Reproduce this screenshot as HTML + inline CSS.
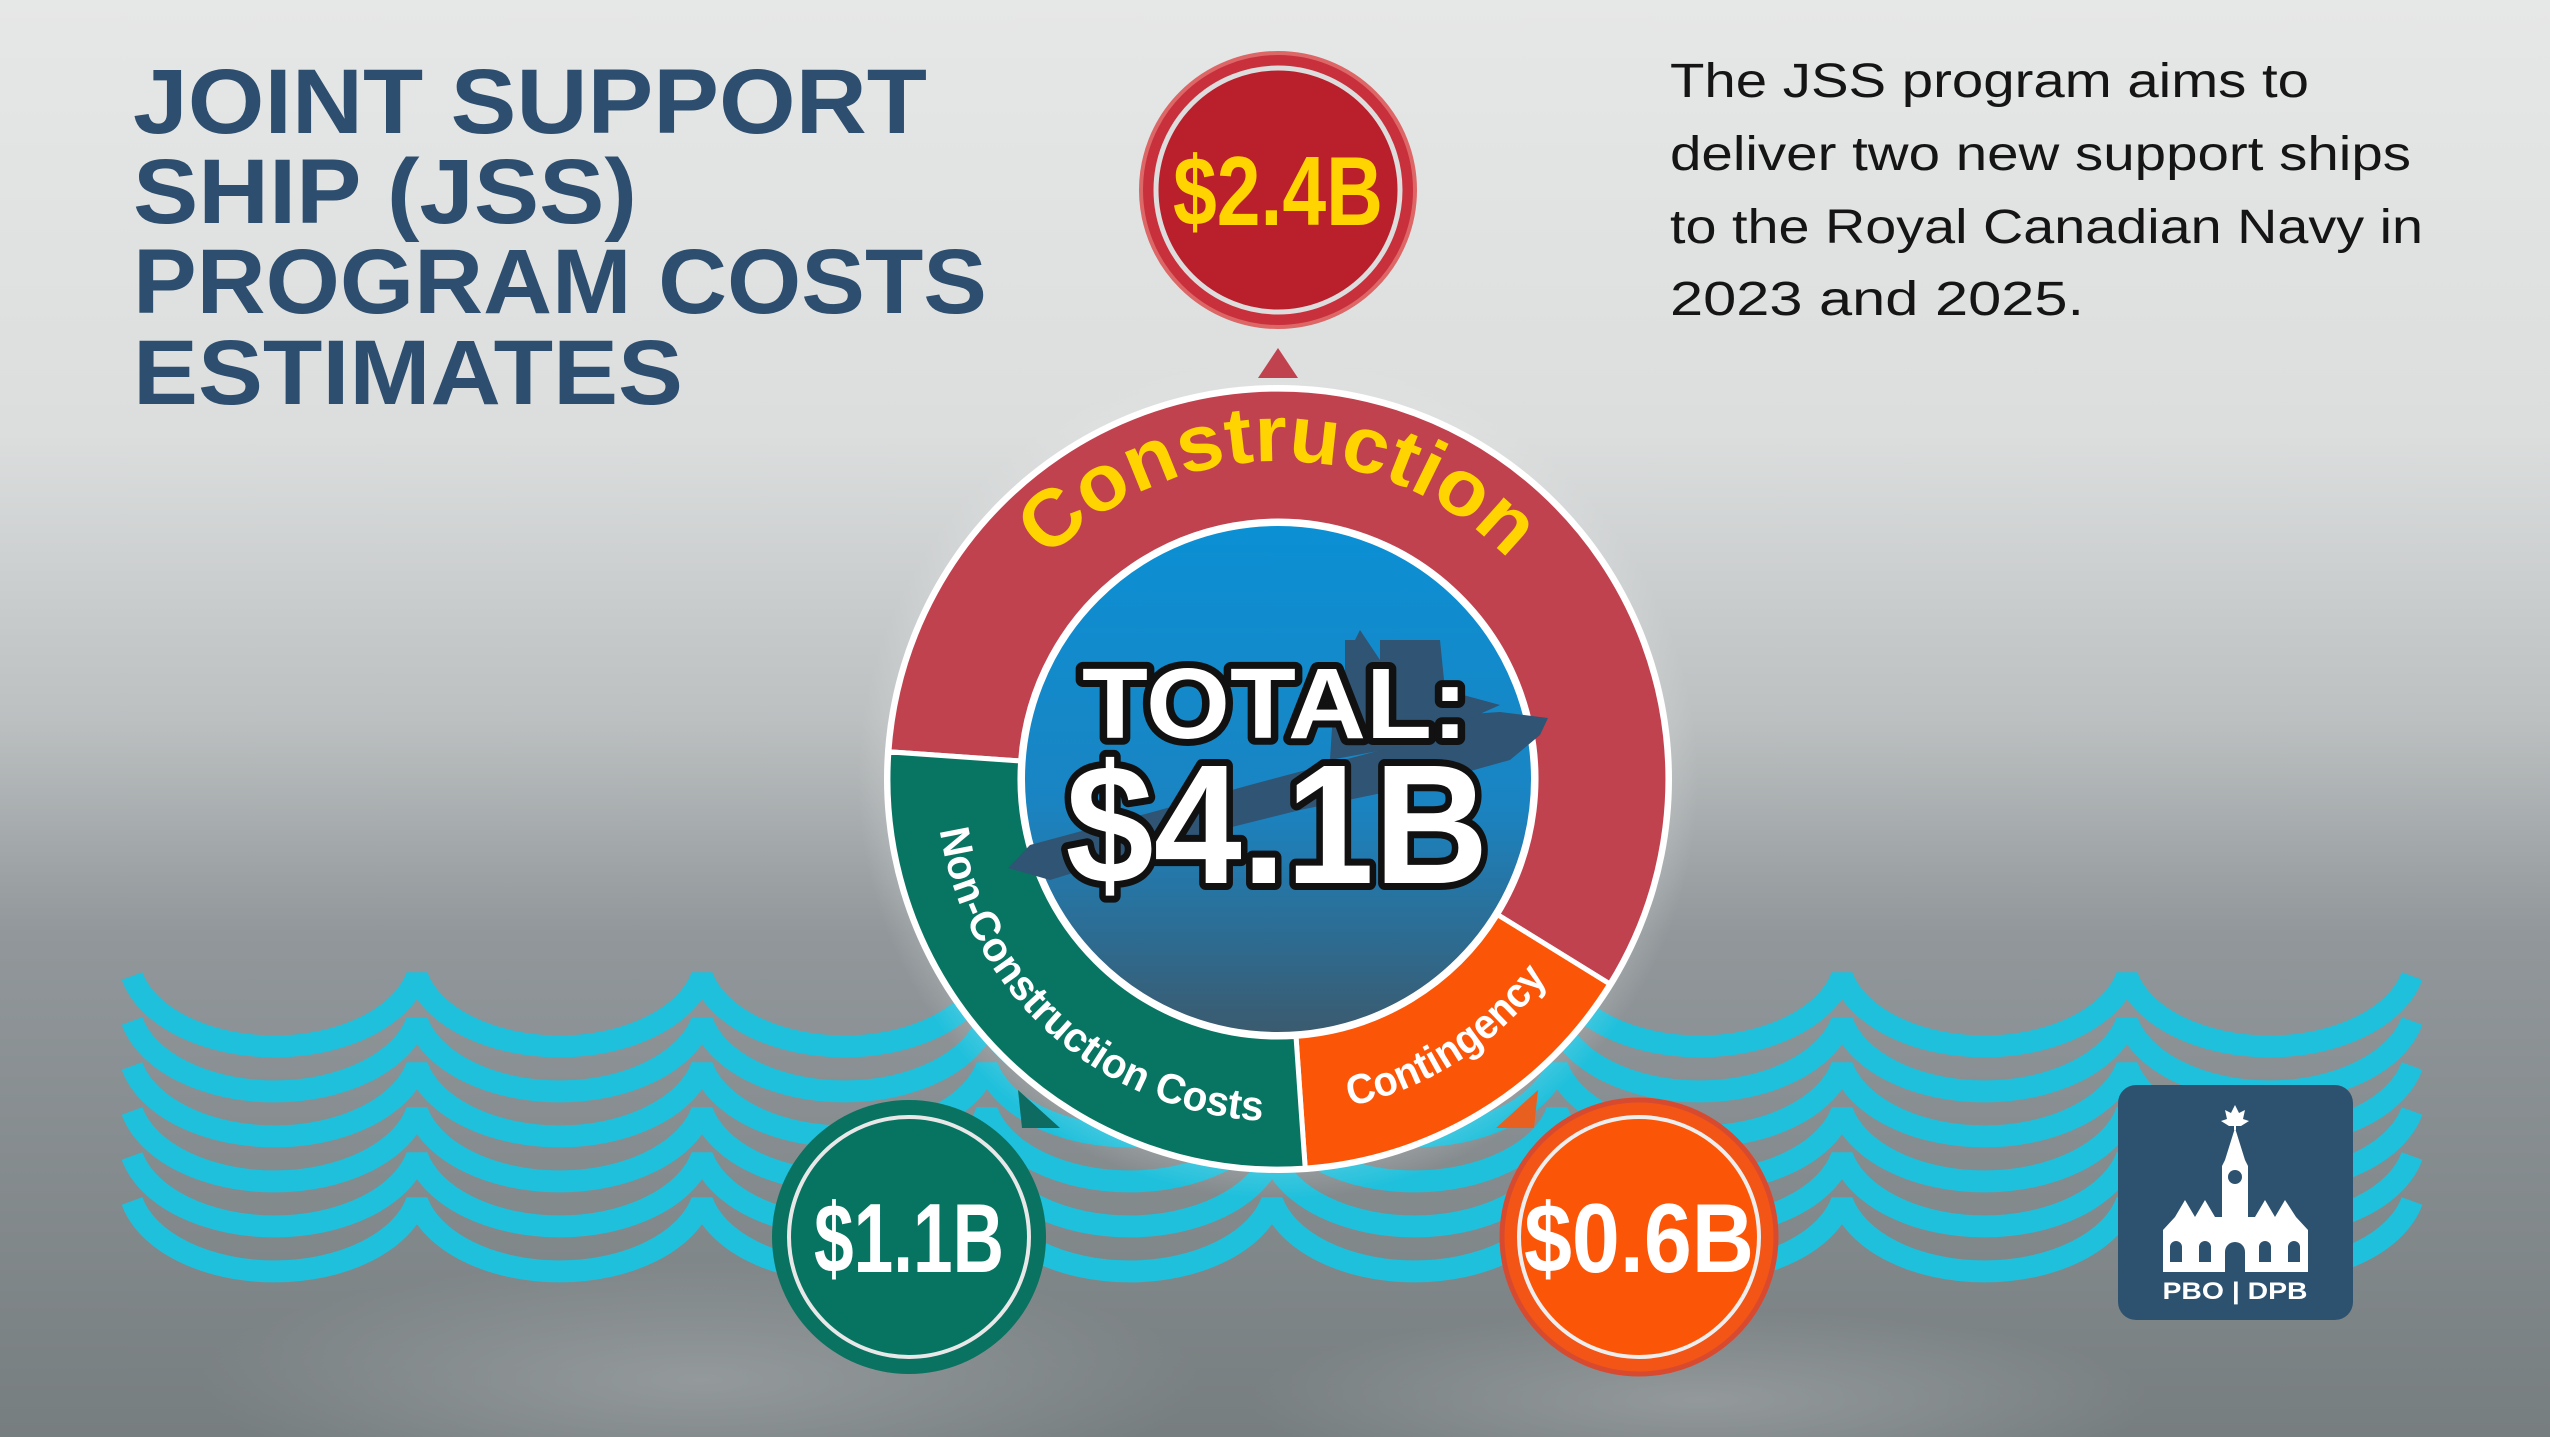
<!DOCTYPE html>
<html><head><meta charset="utf-8"><style>
html,body{margin:0;padding:0;width:2550px;height:1437px;overflow:hidden;background:#aaa}
svg{display:block}
</style></head><body>
<svg width="2550" height="1437" viewBox="0 0 2550 1437" xmlns="http://www.w3.org/2000/svg">
<defs>
<linearGradient id="bg" x1="0" y1="0" x2="0" y2="1">
<stop offset="0" stop-color="#e6e7e7"/>
<stop offset="0.3" stop-color="#dcdede"/>
<stop offset="0.5" stop-color="#bcc0c1"/>
<stop offset="0.65" stop-color="#91979a"/>
<stop offset="1" stop-color="#777e80"/>
</linearGradient>
<radialGradient id="patch" cx="0.5" cy="0.5" r="0.5">
<stop offset="0" stop-color="#9aa0a2" stop-opacity="0.8"/>
<stop offset="1" stop-color="#9aa0a2" stop-opacity="0"/>
</radialGradient>
<radialGradient id="glow" cx="0.5" cy="0.5" r="0.5">
<stop offset="0.7" stop-color="#e8eaea" stop-opacity="0.7"/>
<stop offset="1" stop-color="#e8eaea" stop-opacity="0"/>
</radialGradient>
<linearGradient id="sea" x1="0" y1="0" x2="0" y2="1">
<stop offset="0" stop-color="#0b90d4"/>
<stop offset="0.55" stop-color="#1a84c2"/>
<stop offset="1" stop-color="#3b5a6e"/>
</linearGradient>
<g id="wave">
<path d="M132,976 A146 90 0 0 0 417,976 A146 90 0 0 0 702,976 A146 90 0 0 0 987,976 A146 90 0 0 0 1272,976 A146 90 0 0 0 1557,976 A146 90 0 0 0 1842,976 A146 90 0 0 0 2127,976 A146 90 0 0 0 2412,976" fill="none" stroke="#1fc0dc" stroke-width="22" stroke-linejoin="bevel"/>
</g>
<path id="pCon" d="M960,779 A318 318 0 0 1 1596,779"/>
<path id="pNon" d="M936.2,790.9 A342 342 0 0 0 1301.9,1120.2"/>
<path id="pCont" d="M1336.2,1108.9 A335 335 0 0 0 1555.7,966.3"/>
</defs>
<rect width="2550" height="1437" fill="url(#bg)"/>
<ellipse cx="700" cy="1380" rx="500" ry="120" fill="url(#patch)"/>
<ellipse cx="1700" cy="1400" rx="450" ry="90" fill="url(#patch)"/>

<use href="#wave"/>
<use href="#wave" y="45"/>
<use href="#wave" y="90"/>
<use href="#wave" y="135"/>
<use href="#wave" y="180"/>
<use href="#wave" y="225"/>

<g fill="#2d4e6e" font-family="Liberation Sans, sans-serif" font-weight="bold" font-size="92">
<text x="133" y="133" textLength="794" lengthAdjust="spacingAndGlyphs">JOINT SUPPORT</text>
<text x="133" y="223" textLength="504" lengthAdjust="spacingAndGlyphs">SHIP (JSS)</text>
<text x="133" y="313" textLength="854" lengthAdjust="spacingAndGlyphs">PROGRAM COSTS</text>
<text x="133" y="404" textLength="550" lengthAdjust="spacingAndGlyphs">ESTIMATES</text>
</g>
<g fill="#151515" font-family="Liberation Sans, sans-serif" font-size="48">
<text x="1670" y="97" textLength="639" lengthAdjust="spacingAndGlyphs">The JSS program aims to</text>
<text x="1670" y="170" textLength="741" lengthAdjust="spacingAndGlyphs">deliver two new support ships</text>
<text x="1670" y="243" textLength="753" lengthAdjust="spacingAndGlyphs">to the Royal Canadian Navy in</text>
<text x="1670" y="315" textLength="414" lengthAdjust="spacingAndGlyphs">2023 and 2025.</text>
</g>

<circle cx="1278" cy="779" r="420" fill="url(#glow)"/>
<circle cx="1278" cy="779" r="394" fill="#fff"/>
<path d="M888.9,751.8 A390 390 0 1 1 1609.8,984 L1497.5,914.6 A258 258 0 1 0 1020.6,761 Z" fill="#c1424f" stroke="#fff" stroke-width="5"/>
<path d="M1609.8,984 A390 390 0 0 1 1305.2,1168.1 L1296,1036.4 A258 258 0 0 0 1497.5,914.6 Z" fill="#fb5608" stroke="#fff" stroke-width="5"/>
<path d="M1305.2,1168.1 A390 390 0 0 1 888.9,751.8 L1020.6,761 A258 258 0 0 0 1296,1036.4 Z" fill="#087563" stroke="#fff" stroke-width="5"/>
<circle cx="1278" cy="779" r="256" fill="url(#sea)" stroke="#fff" stroke-width="6"/>
<path d="M1008,868 L1030,845 L1160,810 L1250,785 L1400,745 L1440,735 L1455,715 L1500,712 L1548,718 L1540,735 L1510,760 L1420,785 L1300,810 L1180,840 L1050,880 Z" fill="#2f5474"/>
<path d="M1330,760 L1335,680 L1345,680 L1345,640 L1355,640 L1360,630 L1380,660 L1380,640 L1440,640 L1445,690 L1500,705 L1410,745 L1330,760 Z" fill="#2f5474"/>
<g font-family="Liberation Sans, sans-serif" font-weight="bold" text-anchor="middle" stroke="#111" stroke-linejoin="round" paint-order="stroke" fill="#fff">
<text x="1275" y="738" font-size="100" stroke-width="14" textLength="386" lengthAdjust="spacingAndGlyphs">TOTAL:</text>
<text x="1277" y="883" font-size="170" stroke-width="14" textLength="423" lengthAdjust="spacingAndGlyphs">$4.1B</text>
</g>
<text font-family="Liberation Sans, sans-serif" font-weight="bold" font-size="80" fill="#ffd400" text-anchor="middle"><textPath href="#pCon" startOffset="50%" textLength="515" lengthAdjust="spacingAndGlyphs">Construction</textPath></text>
<text font-family="Liberation Sans, sans-serif" font-weight="bold" font-size="42" fill="#fff" text-anchor="middle"><textPath href="#pNon" startOffset="50%" textLength="470" lengthAdjust="spacingAndGlyphs">Non-Construction Costs</textPath></text>
<text font-family="Liberation Sans, sans-serif" font-weight="bold" font-size="42" fill="#fff" text-anchor="middle"><textPath href="#pCont" startOffset="50%" textLength="240" lengthAdjust="spacingAndGlyphs">Contingency</textPath></text>

<path d="M1258,378 L1278,348 L1298,378 Z" fill="#c1424f"/>
<path d="M1018,1090 L1060,1128 L1022,1128 Z" fill="#0d6b62"/>
<path d="M1538,1090 L1496,1128 L1534,1128 Z" fill="#e86020"/>

<g font-family="Liberation Sans, sans-serif" font-weight="bold" text-anchor="middle">
<circle cx="1278" cy="190" r="137" fill="#c8303c" stroke="#d66" stroke-width="4"/>
<circle cx="1278" cy="190" r="122" fill="#b9202c" stroke="#ddd" stroke-width="5"/>
<text x="1278" y="225" font-size="98" fill="#ffd400" textLength="210" lengthAdjust="spacingAndGlyphs">$2.4B</text>
<circle cx="909" cy="1237" r="137" fill="#0a7260"/>
<circle cx="909" cy="1237" r="120" fill="#077462" stroke="#e8e8e8" stroke-width="4"/>
<text x="909" y="1272" font-size="98" fill="#fff" textLength="190" lengthAdjust="spacingAndGlyphs">$1.1B</text>
<circle cx="1639" cy="1237" r="137" fill="#f25515" stroke="#d84a30" stroke-width="5"/>
<circle cx="1639" cy="1237" r="120" fill="#fb5608" stroke="#eee" stroke-width="4"/>
<text x="1639" y="1272" font-size="98" fill="#fff" textLength="230" lengthAdjust="spacingAndGlyphs">$0.6B</text>
</g>

<rect x="2118" y="1085" width="235" height="235" rx="18" fill="#2d5270"/>
<g fill="#fff">
<path d="M2235,1105 l4,8 6,-3 -2,9 6,2 -8,5 -5,0 0,4 -2,0 0,-4 -5,0 -8,-5 6,-2 -2,-9 6,3 Z"/>
<path d="M2235,1128 L2245,1160 L2248,1166 L2248,1217 L2255,1217 L2265,1200 L2275,1217 L2285,1200 L2296,1217 L2308,1230 L2308,1272 L2163,1272 L2163,1230 L2175,1217 L2185,1200 L2195,1217 L2205,1200 L2215,1217 L2222,1217 L2222,1166 L2225,1160 Z"/>
</g>
<g fill="#2d5270">
<circle cx="2235" cy="1177" r="7"/>
<path d="M2170,1262 v-15 a6 6 0 0 1 12,0 v15 Z M2199,1262 v-15 a6 6 0 0 1 12,0 v15 Z M2259,1262 v-15 a6 6 0 0 1 12,0 v15 Z M2288,1262 v-15 a6 6 0 0 1 12,0 v15 Z M2225,1272 v-20 a10 10 0 0 1 20,0 v20 Z"/>
</g>
<text x="2235" y="1299" font-family="Liberation Sans, sans-serif" font-weight="bold" font-size="24" fill="#fff" text-anchor="middle" textLength="145" lengthAdjust="spacingAndGlyphs">PBO | DPB</text>
</svg>
</body></html>
